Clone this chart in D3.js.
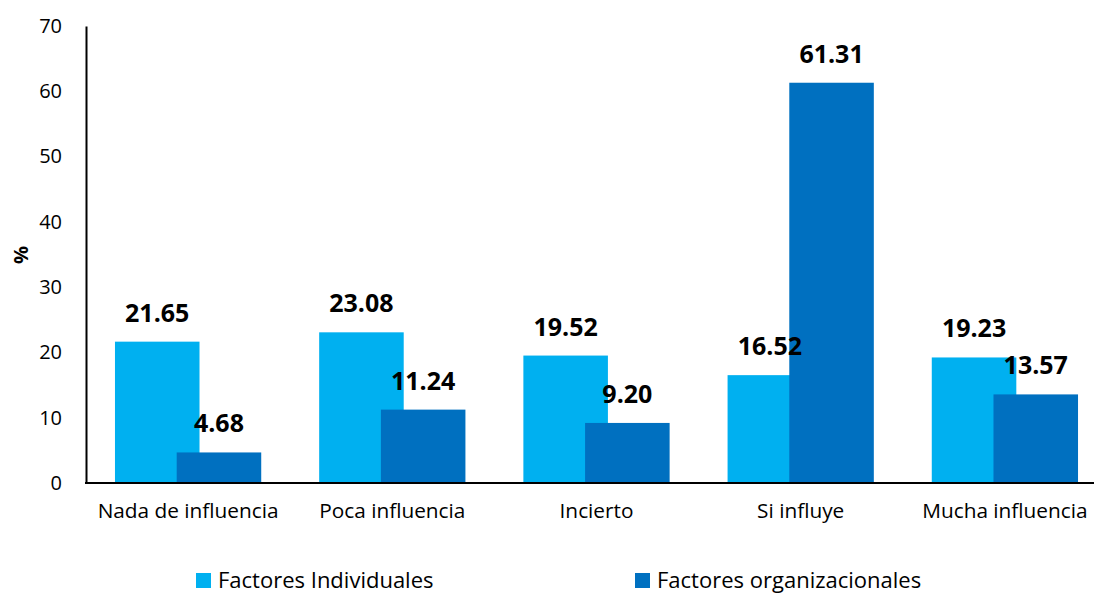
<!DOCTYPE html>
<html>
<head>
<meta charset="utf-8">
<script src="https://cdn.jsdelivr.net/npm/d3@7/dist/d3.min.js"></script>
<style>
  html, body { margin: 0; padding: 0; background: #fff; }
  svg { display: block; font-family: "Open Sans", "Noto Sans", sans-serif; }
</style>
</head>
<body>
<svg id="chart" width="1094" height="593"></svg>
<script>
// Influence categories and the two series (percentages)
const categories = ["Nada de influencia", "Poca influencia", "Incierto", "Si influye", "Mucha influencia"];
const seriesNames = ["Factores Individuales", "Factores organizacionales"];
const individuales = [21.65, 23.08, 19.52, 16.52, 19.23];
const organizacionales = [4.68, 11.24, 9.20, 61.31, 13.57];
const yTicks = [0, 10, 20, 30, 40, 50, 60, 70];
const colors = ["#00B0F0", "#0070C0"];

const svg = d3.select("#chart");

const x = d3.scaleBand().domain(categories).range([86, 1107]).padding(0);
const y = d3.scaleLinear().domain([0, 70]).range([483, 26]);

const bw = x.bandwidth();
const barW = bw * 0.414;
const shift = barW * 0.73;          // second series overlaps the first
const lead = (bw - barW - shift) / 2;

const series = [individuales, organizacionales];

// bars, organizacional drawn on top
series.forEach((vals, s) => {
  svg.append("g").selectAll("rect")
    .data(vals)
    .join("rect")
    .attr("x", (d, i) => x(categories[i]) + lead + s * shift)
    .attr("width", barW)
    .attr("y", d => y(d))
    .attr("height", d => y(0) - y(d))
    .attr("fill", colors[s]);
});

// value labels
series.forEach((vals, s) => {
  svg.append("g").selectAll("text")
    .data(vals)
    .join("text")
    .attr("x", (d, i) => x(categories[i]) + lead + s * shift + barW / 2)
    .attr("y", d => y(d) - 20)
    .attr("text-anchor", "middle")
    .attr("font-size", 25)
    .attr("font-weight", "bold")
    .attr("fill", "#000")
    .text(d => d.toFixed(2));
});

// y axis
const yAxis = d3.axisLeft(y).tickValues(yTicks).tickSize(0).tickPadding(24);
const gy = svg.append("g").attr("transform", "translate(86,0)").call(yAxis);
gy.select(".domain").attr("stroke", "#000").attr("stroke-width", 2);
gy.selectAll("text").attr("font-size", 20).attr("fill", "#000")
  .attr("font-family", "'Open Sans', sans-serif");

// x axis
const xAxis = d3.axisBottom(x).tickSize(0).tickPadding(20);
const gx = svg.append("g").attr("transform", "translate(0,483)").call(xAxis);
gx.select(".domain").remove();
gx.append("line").attr("x1", 85).attr("x2", 1094).attr("y1", 0).attr("y2", 0)
  .attr("stroke", "#000").attr("stroke-width", 2);
gx.selectAll("text").attr("font-size", 20.8).attr("fill", "#000")
  .attr("font-family", "'Open Sans', sans-serif");

// y axis title
svg.append("text")
  .attr("transform", "translate(28,255) rotate(-90)")
  .attr("text-anchor", "middle")
  .attr("font-size", 20)
  .attr("font-weight", "bold")
  .text("%");

// legend
const legendX = [196, 635];
seriesNames.forEach((name, s) => {
  const g = svg.append("g").attr("transform", `translate(${legendX[s]},573)`);
  g.append("rect").attr("width", 15).attr("height", 15).attr("fill", colors[s]);
  g.append("text").attr("x", 22).attr("y", 14.5)
    .attr("font-size", 22).attr("fill", "#000").text(name);
});
</script>
</body>
</html>
